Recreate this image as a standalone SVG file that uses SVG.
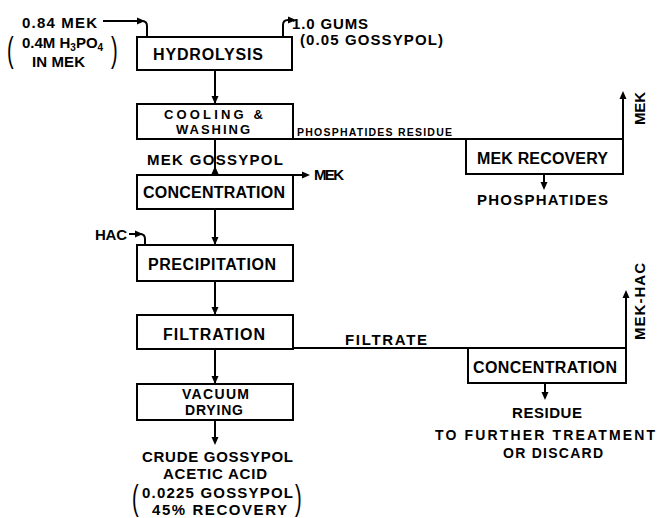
<svg xmlns="http://www.w3.org/2000/svg" xmlns:xlink="http://www.w3.org/1999/xlink" width="657" height="518" viewBox="0 0 657 518">
<defs>
<style>
.box{fill:#fff;stroke:#000;stroke-width:2}
.ln{fill:none;stroke:#000;stroke-width:2}
text{font-family:"Liberation Sans",Arial,sans-serif;font-weight:bold;fill:#000}
.b{font-size:16px}
.m{font-size:15px}
.s{font-size:14px}
.t{font-size:13px}
.xs{font-size:10.5px}
.par{font-weight:normal}
</style>
<path id="ah" d="M0,0 L-8,-3.5 L-8,3.5 Z" fill="#000"/>
</defs>
<rect width="657" height="518" fill="#fff"/>

<g id="connectors">
<path class="ln" d="M103,21 H142 Q147,21 147,26 V37"/>
<use xlink:href="#ah" transform="translate(145,21)"/>
<path class="ln" d="M283,37 V25 Q283,20 288,20 H292"/>
<use xlink:href="#ah" transform="translate(296,20)"/>
<path class="ln" d="M215,70 V104"/>
<use xlink:href="#ah" transform="translate(215,104) rotate(90)"/>
<path class="ln" d="M215,140 V175"/>
<use xlink:href="#ah" transform="translate(215,166) rotate(-90)"/>
<path class="ln" d="M293,175 H306"/>
<use xlink:href="#ah" transform="translate(310,175)"/>
<path class="ln" d="M215,209 V245"/>
<use xlink:href="#ah" transform="translate(215,245) rotate(90)"/>
<path class="ln" d="M129,234 H140 Q145,234 145,239 V245"/>
<use xlink:href="#ah" transform="translate(143,234)"/>
<path class="ln" d="M215,281 V315"/>
<use xlink:href="#ah" transform="translate(215,315) rotate(90)"/>
<path class="ln" d="M215,349 V384"/>
<use xlink:href="#ah" transform="translate(215,384) rotate(90)"/>
<path class="ln" d="M215,420 V443"/>
<use xlink:href="#ah" transform="translate(215,445) rotate(90)"/>
<path class="ln" d="M293,139 H623 V95"/>
<use xlink:href="#ah" transform="translate(623,91) rotate(-90)"/>
<path class="ln" d="M544,174 V188"/>
<use xlink:href="#ah" transform="translate(544,190) rotate(90)"/>
<path class="ln" d="M293,348 H626 V294"/>
<use xlink:href="#ah" transform="translate(626,290) rotate(-90)"/>
<path class="ln" d="M545,383 V398"/>
<use xlink:href="#ah" transform="translate(545,400) rotate(90)"/>
</g>

<g id="hydrolysis">
<rect class="box" x="137" y="37" width="155" height="33"/>
<text class="b" x="153" y="60" textLength="110" lengthAdjust="spacing">HYDROLYSIS</text>
</g>
<g id="cooling">
<rect class="box" x="137" y="104" width="156" height="35"/>
<text class="t" x="164" y="119" textLength="99" lengthAdjust="spacing">COOLING &amp;</text>
<text class="t" x="176" y="134" textLength="74" lengthAdjust="spacing">WASHING</text>
</g>
<g id="concentration1">
<rect class="box" x="137" y="175" width="156" height="34"/>
<text class="b" x="143" y="198" textLength="142" lengthAdjust="spacing">CONCENTRATION</text>
</g>
<g id="precipitation">
<rect class="box" x="137" y="245" width="156" height="36"/>
<text class="b" x="148" y="270" textLength="128" lengthAdjust="spacing">PRECIPITATION</text>
</g>
<g id="filtration">
<rect class="box" x="137" y="315" width="156" height="34"/>
<text class="b" x="163" y="340" textLength="102" lengthAdjust="spacing">FILTRATION</text>
</g>
<g id="vacuum-drying">
<rect class="box" x="137" y="384" width="156" height="36"/>
<text class="s" x="182" y="399" textLength="67" lengthAdjust="spacing">VACUUM</text>
<text class="s" x="185" y="415" textLength="58" lengthAdjust="spacing">DRYING</text>
</g>
<g id="mek-recovery">
<rect class="box" x="466" y="139" width="157" height="35"/>
<text class="b" x="477" y="164" textLength="131" lengthAdjust="spacing">MEK RECOVERY</text>
</g>
<g id="concentration2">
<rect class="box" x="468" y="348" width="158" height="35"/>
<text class="b" x="473" y="373" textLength="144" lengthAdjust="spacing">CONCENTRATION</text>
</g>

<g id="labels">
<text class="m" x="22" y="28" textLength="75" lengthAdjust="spacing">0.84 MEK</text>
<text class="m" x="22" y="48">0.4M H<tspan font-size="10" dy="3">3</tspan><tspan dy="-3">PO</tspan><tspan font-size="10" dy="3">4</tspan></text>
<text class="m" x="32" y="67" textLength="53" lengthAdjust="spacing">IN MEK</text>
<text class="par" font-size="20" transform="translate(7,62) scale(1,1.75)">(</text>
<text class="par" font-size="20" transform="translate(111,62) scale(1,1.75)">)</text>
<text class="m" x="292" y="29" textLength="76" lengthAdjust="spacing">1.0 GUMS</text>
<text class="m" x="300" y="45" textLength="143" lengthAdjust="spacing">(0.05 GOSSYPOL)</text>
<text class="xs" x="297" y="136" textLength="155" lengthAdjust="spacing">PHOSPHATIDES RESIDUE</text>
<text class="m" transform="translate(645,125) rotate(-90)" textLength="33" lengthAdjust="spacing">MEK</text>
<text class="m" x="147" y="165" textLength="136" lengthAdjust="spacing">MEK GOSSYPOL</text>
<text class="m" x="314" y="180" textLength="30" lengthAdjust="spacing">MEK</text>
<text class="m" x="477" y="205" textLength="131" lengthAdjust="spacing">PHOSPHATIDES</text>
<text class="m" x="95" y="240" textLength="32" lengthAdjust="spacing">HAC</text>
<text class="m" x="345" y="345" textLength="82" lengthAdjust="spacing">FILTRATE</text>
<text class="m" transform="translate(645,340) rotate(-90)" textLength="77" lengthAdjust="spacing">MEK-HAC</text>
<text class="m" x="512" y="418" textLength="70" lengthAdjust="spacing">RESIDUE</text>
<text class="s" x="435" y="440" textLength="220" lengthAdjust="spacing">TO FURTHER TREATMENT</text>
<text class="s" x="503" y="458" textLength="100" lengthAdjust="spacing">OR DISCARD</text>
<text class="m" x="142" y="462" textLength="151" lengthAdjust="spacing">CRUDE GOSSYPOL</text>
<text class="m" x="163" y="479" textLength="104" lengthAdjust="spacing">ACETIC ACID</text>
<text class="m" x="142" y="498" textLength="151" lengthAdjust="spacing">0.0225 GOSSYPOL</text>
<text class="m" x="152" y="515" textLength="135" lengthAdjust="spacing">45% RECOVERY</text>
<text class="par" font-size="20" transform="translate(132,510) scale(1,1.75)">(</text>
<text class="par" font-size="20" transform="translate(295,510) scale(1,1.75)">)</text>
</g>
</svg>
